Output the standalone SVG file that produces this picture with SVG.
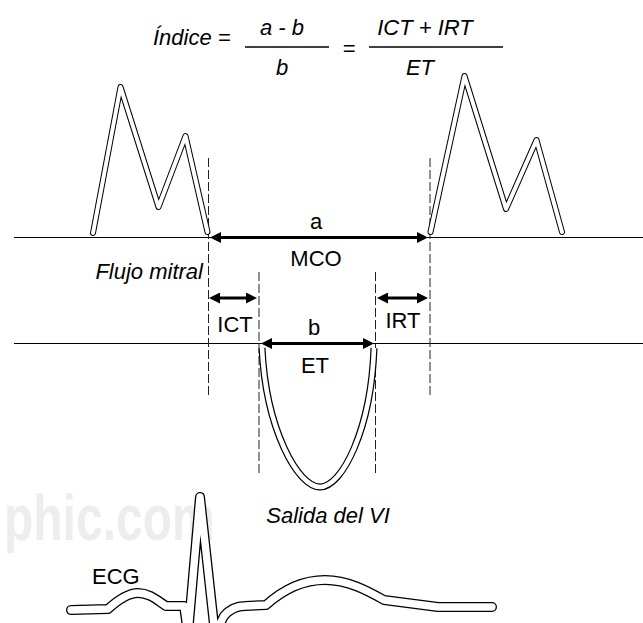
<svg xmlns="http://www.w3.org/2000/svg" xmlns:xlink="http://www.w3.org/1999/xlink" width="643" height="623" viewBox="0 0 643 623">
<style>
.t{font-family:"Liberation Sans",Arial,sans-serif;font-size:22px;fill:#000}
.i{font-style:italic}
.m{text-anchor:middle}
.ob{fill:none;stroke:#000;stroke-linecap:round;stroke-linejoin:round}
.iw{fill:none;stroke:#fff;stroke-linecap:round;stroke-linejoin:round}
.butt{stroke-linecap:butt}
.base{stroke:#000;stroke-width:1.2;fill:none}
.dash{stroke:#222;stroke-width:1;stroke-dasharray:9 3;fill:none}
.arr{stroke:#000;stroke-width:3;fill:none;marker-start:url(#ah);marker-end:url(#ah)}
.frac{stroke:#000;stroke-width:1.5}
.wm{font-family:"Liberation Sans",Arial,sans-serif;font-size:64px;font-weight:bold;fill:#ededed}
</style>
<defs>
<marker id="ah" viewBox="0 0 11 11" refX="7" refY="5.5" markerWidth="11" markerHeight="11" markerUnits="userSpaceOnUse" orient="auto-start-reverse">
<path d="M0,0 L11,5.5 L0,11 z" fill="#000"/>
</marker>
<path id="mitL" d="M93,233 L120.5,87 L158.5,207 L185.5,136 L207.5,232"/>
<path id="mitR" d="M430.5,232 L464.5,76 L506,209 L536.5,140 L562,232"/>
<path id="lvo" d="M262,348 C266,430 298,487 320,487 C342,487 371,430 374,348"/>
<path id="ecgp" d="M71,610 L108,609 C118,600 128,593 138,593 C150,593 158,601 166,606 L184,606 L188,634 L200,497 L215,634 L224,616 C230,609 236,606 245,606 L266,605 C285,588 305,580 325,580 C348,580 368,591 384,600 L438,607 L492,607"/>
</defs>
<rect width="643" height="623" fill="#fff"/>
<text class="wm" transform="translate(4,540) scale(0.75,1)" x="0" y="0">phic.com</text>

<g id="formula">
<text class="t i" x="153" y="45">Índice =</text>
<text class="t i m" x="282" y="35">a - b</text>
<line class="frac" x1="245" y1="47" x2="329" y2="47"/>
<text class="t i m" x="282" y="75">b</text>
<text class="t i m" x="349" y="56">=</text>
<text class="t i m" x="425" y="35">ICT + IRT</text>
<line class="frac" x1="369" y1="47" x2="503" y2="47"/>
<text class="t i m" x="420" y="75">ET</text>
</g>

<g id="connectors">
<line class="base" x1="14" y1="237.5" x2="643" y2="237.5"/>
<line class="base" x1="14" y1="343.5" x2="643" y2="343.5"/>
<line class="dash" x1="208.5" y1="158" x2="208.5" y2="398"/>
<line class="dash" x1="430" y1="158" x2="430" y2="398"/>
<line class="dash" x1="259" y1="272" x2="259" y2="473"/>
<line class="dash" x1="375.5" y1="272" x2="375.5" y2="473"/>
<line class="arr" x1="214" y1="237.5" x2="424" y2="237.5"/>
<line class="arr" x1="213" y1="298" x2="253" y2="298"/>
<line class="arr" x1="381" y1="298" x2="424" y2="298"/>
<line class="arr" x1="265" y1="343.5" x2="370" y2="343.5"/>
</g>

<g id="mitral-left">
<use xlink:href="#mitL" class="ob" stroke-width="6"/>
<use xlink:href="#mitL" class="iw" stroke-width="4"/>
</g>
<g id="mitral-right">
<use xlink:href="#mitR" class="ob" stroke-width="6"/>
<use xlink:href="#mitR" class="iw" stroke-width="4"/>
</g>
<g id="lv-outflow">
<use xlink:href="#lvo" class="ob butt" stroke-width="7"/>
<use xlink:href="#lvo" class="iw butt" stroke-width="4.6"/>
</g>
<g id="ecg">
<use xlink:href="#ecgp" class="ob" stroke-width="10"/>
<use xlink:href="#ecgp" class="iw" stroke-width="7.4"/>
</g>

<g id="labels">
<text class="t m" x="316" y="229">a</text>
<text class="t m" x="316" y="266">MCO</text>
<text class="t i" x="203" y="279" text-anchor="end">Flujo mitral</text>
<text class="t m" x="235" y="332">ICT</text>
<text class="t m" x="403" y="328">IRT</text>
<text class="t m" x="314" y="335">b</text>
<text class="t m" x="315" y="373">ET</text>
<text class="t i m" x="328" y="523">Salida del VI</text>
<text class="t" x="92" y="584">ECG</text>
</g>
</svg>
